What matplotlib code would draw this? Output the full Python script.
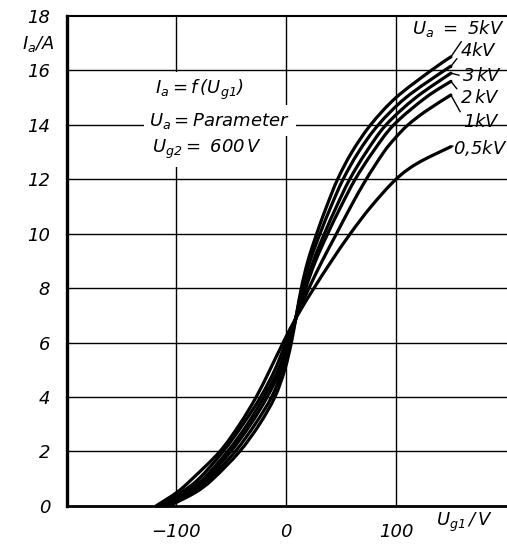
import matplotlib
matplotlib.use("Agg")
import matplotlib.pyplot as plt
from matplotlib.path import Path
from matplotlib.patches import PathPatch

# Ia / A levels and the read-off Ug1 / V values per anode voltage
IA_5KV = [0, 0.5, 1, 2, 3, 4, 5, 6, 7, 8, 9, 10, 11, 12, 13, 14, 15, 16, 16.5]
UG_5KV = [-106, -82, -66, -42, -24, -10, -1, 5, 9.5, 14, 20, 28, 37, 47, 60, 77, 100, 132, 150]

IA_4KV = [0, 0.5, 1, 2, 3, 4, 5, 6, 7, 8, 9, 10, 11, 12, 13, 14, 15, 16, 16.15]
UG_4KV = [-108, -85, -69, -46, -28, -13, -3, 4, 9.5, 15, 22, 31, 41, 52, 66, 84, 109, 144, 150]

IA_3KV = [0, 0.5, 1, 2, 3, 4, 5, 6, 7, 8, 9, 10, 11, 12, 13, 14, 15, 15.9]
UG_3KV = [-110, -88, -72, -50, -32, -17, -5, 3, 10, 17, 25, 35, 46, 58, 73, 91, 118, 150]

IA_2KV = [0, 0.5, 1, 2, 3, 4, 5, 6, 7, 8, 9, 10, 11, 12, 13, 14, 15, 15.6]
UG_2KV = [-112, -91, -75, -53, -35, -20, -7, 2, 10, 18, 27, 38, 50, 63, 79, 98, 127, 150]

IA_1KV = [0, 0.5, 1, 2, 3, 4, 5, 6, 7, 8, 9, 10, 11, 12, 13, 13.5, 14, 14.5, 15.1]
UG_1KV = [-115, -95, -79, -57, -39, -23, -10, 0, 10, 21, 33, 46, 59, 73, 89, 99, 111, 127, 150]

IA_05KV = [0, 0.5, 1, 2, 3, 4, 5, 6, 7, 8, 9, 10, 11, 12, 12.6, 13.2]
UG_05KV = [-118, -99, -85, -60, -42, -27, -14.5, -2.5, 10.5, 25.5, 41.5, 58.5, 77.5, 100, 120, 150]

CURVES = [
    (UG_5KV, IA_5KV, r"$U_a\ =\ 5kV$", (115, 17.55), (0.55, 0.0)),
    (UG_4KV, IA_4KV, r"$4kV$", (158, 16.7), (0.0, 0.3)),
    (UG_3KV, IA_3KV, r"$3\,kV$", (160, 15.8), (0.0, 0.5)),
    (UG_2KV, IA_2KV, r"$2\,kV$", (158, 15.0), (0.0, 0.8)),
    (UG_1KV, IA_1KV, r"$1kV$", (161, 14.1), (0.0, 0.8)),
    (UG_05KV, IA_05KV, r"$0{,}5kV$", (152, 13.15), (0.0, 0.6)),
]

X_TICKS = [-100, 0, 100]
X_TICK_LABELS = ["\u2212100", "0", "100"]
Y_TICKS = [0, 2, 4, 6, 8, 10, 12, 14, 16, 18]

FONT = "Liberation Sans Narrow"
plt.rcParams["font.family"] = [FONT, "DejaVu Sans"]
plt.rcParams["font.style"] = "italic"
plt.rcParams["mathtext.fontset"] = "custom"
plt.rcParams["mathtext.rm"] = FONT + ":italic"
plt.rcParams["mathtext.it"] = FONT + ":italic"
plt.rcParams["mathtext.bf"] = FONT + ":italic"


def smooth_path(xs, ys):
    # Catmull-Rom through the read points, drawn as cubic Bezier segments
    pts = list(zip(xs, ys))
    verts = [pts[0]]
    codes = [Path.MOVETO]
    n = len(pts)
    for i in range(n - 1):
        p0 = pts[i - 1] if i > 0 else pts[i]
        p1 = pts[i]
        p2 = pts[i + 1]
        p3 = pts[i + 2] if i + 2 < n else pts[i + 1]
        c1 = (p1[0] + (p2[0] - p0[0]) / 6, p1[1] + (p2[1] - p0[1]) / 6)
        c2 = (p2[0] - (p3[0] - p1[0]) / 6, p2[1] - (p3[1] - p1[1]) / 6)
        verts += [c1, c2, p2]
        codes += [Path.CURVE4] * 3
    return Path(verts, codes)


fig = plt.figure(figsize=(5.07, 5.44), dpi=100)
ax = fig.add_axes([0.132, 0.070, 0.868, 0.9005])

ax.set_xlim(-199, 201)
ax.set_ylim(0, 18)

# grid
for x in X_TICKS:
    ax.axvline(x, color="black", lw=1.0, zorder=1)
for y in Y_TICKS[1:-1]:
    ax.axhline(y, color="black", lw=1.0, zorder=1)

ax.spines["right"].set_visible(False)
ax.spines["left"].set_linewidth(2.4)
ax.spines["bottom"].set_linewidth(2.0)
ax.spines["top"].set_linewidth(1.5)

ax.set_xticks(X_TICKS)
ax.set_xticklabels(X_TICK_LABELS)
ax.set_yticks(Y_TICKS)
ax.tick_params(length=0, labelsize=13, pad=12)
for lbl in ax.get_xticklabels() + ax.get_yticklabels():
    lbl.set_fontstyle("italic")

# curves
for ug, ia, label, pos, rel in CURVES:
    ax.add_patch(PathPatch(smooth_path(ug, ia), fill=False, edgecolor="black",
                           lw=2.3, joinstyle="round", capstyle="round",
                           zorder=3, clip_on=False))
    ax.annotate(label, xy=(ug[-1], ia[-1]), xytext=pos, fontsize=13,
                ha="left", va="center", zorder=4, annotation_clip=False,
                arrowprops=dict(arrowstyle="-", color="black", lw=1.0,
                                shrinkA=0, shrinkB=0, relpos=rel))

# parameter block
box = dict(facecolor="white", edgecolor="none", pad=4)
ax.text(-119, 15.3, r"$I_a = f\,(U_{g1})$", fontsize=13, ha="left",
        va="center", bbox=box, zorder=2)
ax.text(-124, 14.15, r"$U_a = Parameter$", fontsize=13, ha="left",
        va="center", bbox=box, zorder=2)
ax.text(-122, 13.1, r"$U_{g2}=\ 600\,V$", fontsize=13, ha="left",
        va="center", bbox=box, zorder=2)

# axis labels
fig.text(0.108, 0.92, r"$I_a/A$", fontsize=13, ha="right", va="center")
fig.text(0.86, 0.04, r"$U_{g1}\,/\,V$", fontsize=13, ha="left", va="center")

fig.savefig("out.png", dpi=100)
